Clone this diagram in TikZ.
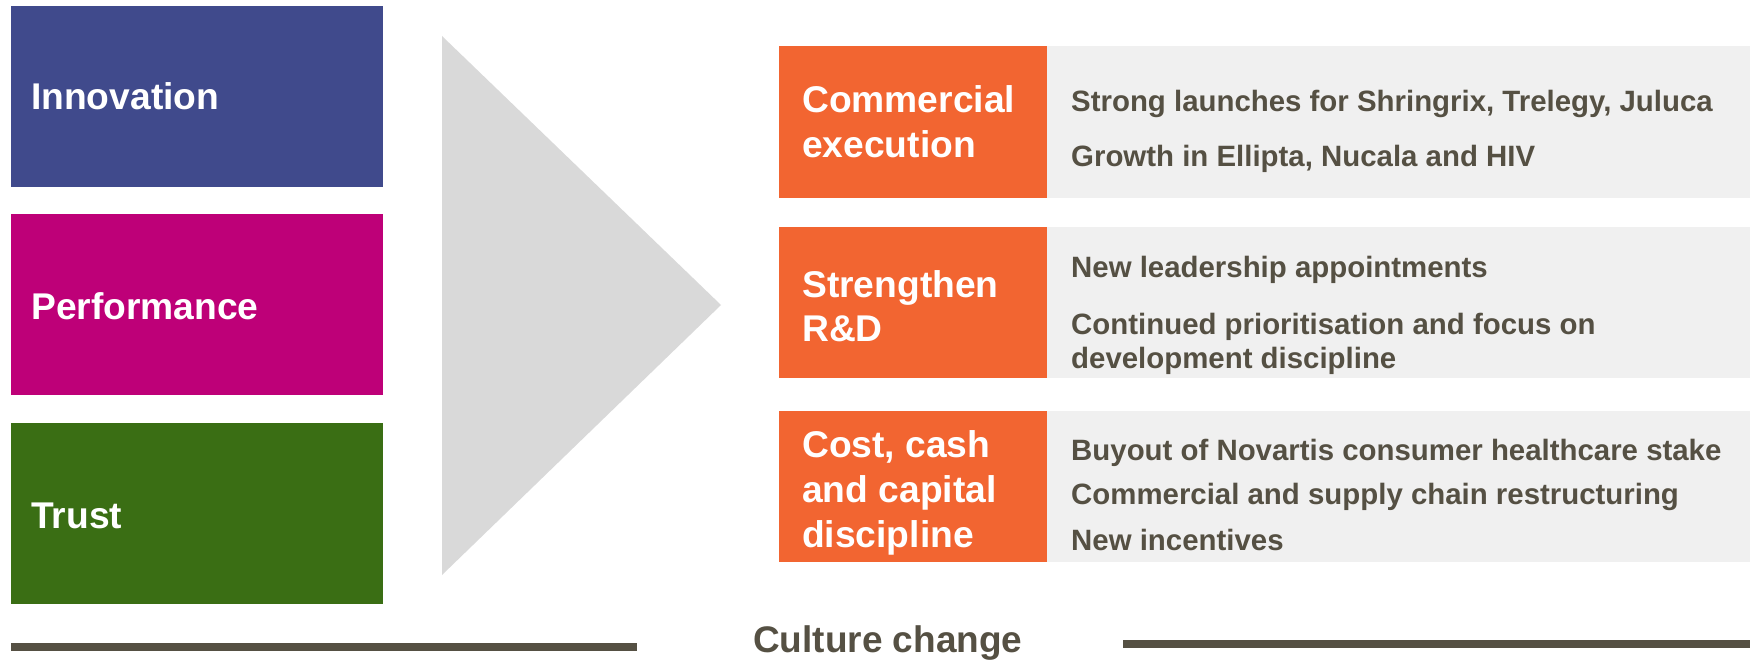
\documentclass[tikz,border=0pt]{standalone}
\usepackage{fontspec}
\setmainfont{Liberation Sans}
\definecolor{innov}{RGB}{64,74,140}
\definecolor{perf}{RGB}{190,0,120}
\definecolor{trust}{RGB}{58,110,20}
\definecolor{accent}{RGB}{242,101,49}
\definecolor{panel}{RGB}{240,240,240}
\definecolor{arrowgrey}{RGB}{217,217,217}
\definecolor{ink}{RGB}{85,80,67}
\tikzset{
  bigtxt/.style={inner sep=0pt, anchor=base west, text=white,
    font=\fontsize{37.2bp}{45bp}\selectfont\bfseries},
  itemtxt/.style={inner sep=0pt, anchor=base west, text=ink,
    font=\fontsize{29.4bp}{34bp}\selectfont\bfseries},
  rule/.style={draw=ink, line width=8bp},
}
\begin{document}
\begin{tikzpicture}[x=1bp,y=-1bp]
\useasboundingbox (0,0) rectangle (1750,660);

% the three values
\fill[innov] (11,6) rectangle (383,187);
\fill[perf]  (11,214) rectangle (383,395);
\fill[trust] (11,423) rectangle (383,604);
\node[bigtxt] (innovation)  at (31,110) {Innovation};
\node[bigtxt] (performance) at (31,319) {Performance};
\node[bigtxt] (trustlbl)    at (31,528) {Trust};

% big arrow head
\fill[arrowgrey] (442,36) -- (721,305) -- (442,575) -- cycle;

% priority rows: orange label block and grey detail panel
\fill[accent] (779,46) rectangle (1047,198);
\fill[panel]  (1047,46) rectangle (1750,198);
\fill[accent] (779,227) rectangle (1047,378);
\fill[panel]  (1047,227) rectangle (1750,378);
\fill[accent] (779,411) rectangle (1047,562);
\fill[panel]  (1047,411) rectangle (1750,562);

\node[bigtxt] (ce1) at (802,113) {Commercial};
\node[bigtxt] (ce2) at (802,158) {execution};
\node[bigtxt] (rd1) at (802,297) {Strengthen};
\node[bigtxt] (rd2) at (802,341) {R\&D};
\node[bigtxt] (cc1) at (802,457) {Cost, cash};
\node[bigtxt] (cc2) at (802,502) {and capital};
\node[bigtxt] (cc3) at (802,547) {discipline};

\node[itemtxt] (i11) at (1071,112) {Strong launches for Shringrix, Trelegy, Juluca};
\node[itemtxt] (i12) at (1071,167) {Growth in Ellipta, Nucala and HIV};
\node[itemtxt] (i21) at (1071,277) {New leadership appointments};
\node[itemtxt] (i22) at (1071,334) {Continued prioritisation and focus on};
\node[itemtxt] (i23) at (1071,368) {development discipline};
\node[itemtxt] (i31) at (1071,460) {Buyout of Novartis consumer healthcare stake};
\node[itemtxt] (i32) at (1071,504) {Commercial and supply chain restructuring};
\node[itemtxt] (i33) at (1071,550) {New incentives};

% footer
\node[inner sep=0pt, anchor=base west, text=ink,
      font=\fontsize{37bp}{44bp}\selectfont\bfseries] (culture) at (753,652) {Culture change};
\coordinate (l1) at (11,647);
\coordinate (l2) at (637,647);
\coordinate (r1) at (1123,644);
\coordinate (r2) at (1750,644);
\draw[rule] (l1) -- (l2);
\draw[rule] (r1) -- (r2);
\end{tikzpicture}
\end{document}
